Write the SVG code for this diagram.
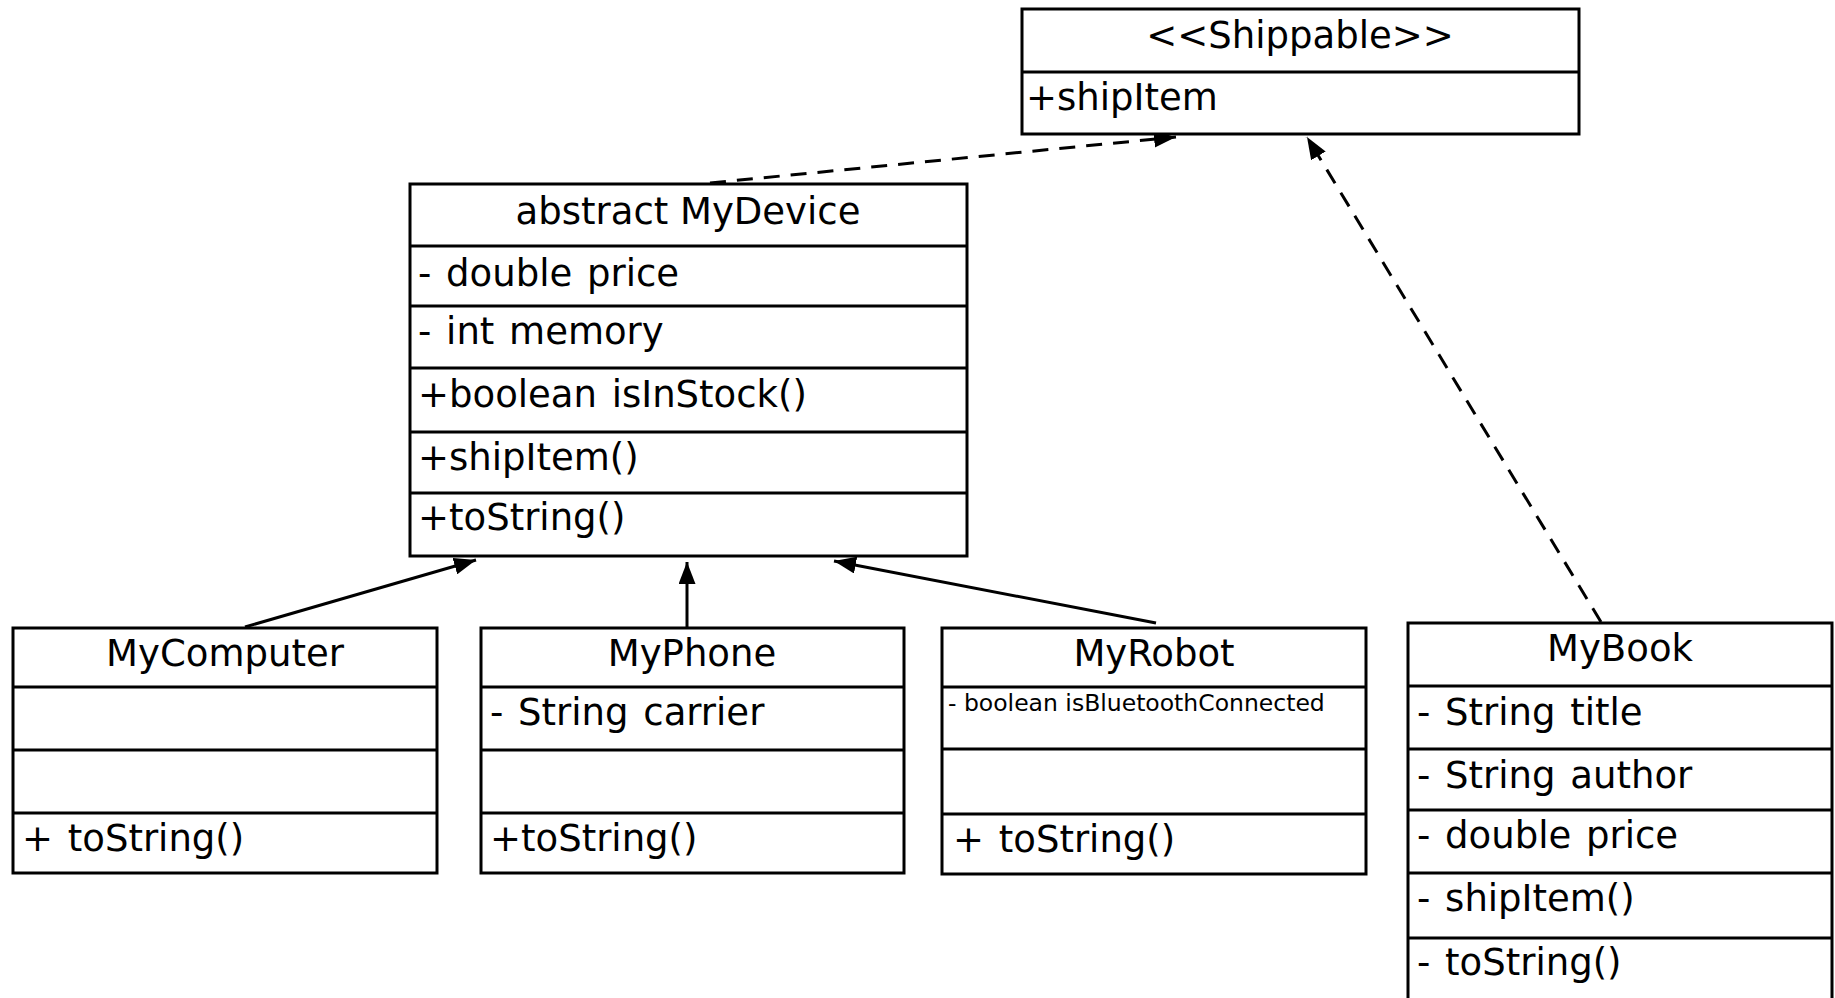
<svg xmlns="http://www.w3.org/2000/svg" width="1835" height="998" viewBox="0 0 1835 998">
<style>
.box{fill:#fff;stroke:#000;stroke-width:3}
.div{stroke:#000;stroke-width:3}
.t{font-family:"DejaVu Sans",Verdana,sans-serif;font-size:37px;fill:#000}
.c{text-anchor:middle}
.w{word-spacing:3px}
.s{font-size:23.5px}
.edge{fill:none;stroke:#000;stroke-width:3}
.dash{stroke-dasharray:16 11}
</style>
<defs>
<marker id="arr" viewBox="0 0 22 17" refX="22" refY="8.5" markerWidth="22" markerHeight="17" orient="auto" markerUnits="userSpaceOnUse">
<path d="M0,0 L22,8.5 L0,17 Z" fill="#000"/>
</marker>
</defs>
<rect width="1835" height="998" fill="#fff"/>

<g id="connectors">
<line class="edge dash" x1="710" y1="183" x2="1176" y2="137" marker-end="url(#arr)"/>
<line class="edge dash" x1="1601" y1="622" x2="1307" y2="137" marker-end="url(#arr)"/>
<line class="edge" x1="245" y1="627" x2="476" y2="560" marker-end="url(#arr)"/>
<line class="edge" x1="687" y1="627" x2="687" y2="562" marker-end="url(#arr)"/>
<line class="edge" x1="1156" y1="623" x2="834" y2="561" marker-end="url(#arr)"/>
</g>

<g id="shippable">
<rect class="box" x="1022" y="9" width="557" height="125"/>
<line class="div" x1="1022" y1="72" x2="1579" y2="72"/>
<text class="t c" x="1300" y="48">&lt;&lt;Shippable&gt;&gt;</text>
<text class="t" x="1026" y="110">+shipItem</text>
</g>

<g id="mydevice">
<rect class="box" x="410" y="184" width="557" height="372"/>
<line class="div" x1="410" y1="246" x2="967" y2="246"/>
<line class="div" x1="410" y1="306" x2="967" y2="306"/>
<line class="div" x1="410" y1="368" x2="967" y2="368"/>
<line class="div" x1="410" y1="432" x2="967" y2="432"/>
<line class="div" x1="410" y1="493" x2="967" y2="493"/>
<text class="t c" x="688" y="224">abstract MyDevice</text>
<text class="t w" x="418" y="286">- double price</text>
<text class="t w" x="418" y="344">- int memory</text>
<text class="t w" x="418" y="407">+boolean isInStock()</text>
<text class="t" x="418" y="470">+shipItem()</text>
<text class="t" x="418" y="530">+toString()</text>
</g>

<g id="mycomputer">
<rect class="box" x="13" y="628" width="424" height="245"/>
<line class="div" x1="13" y1="687" x2="437" y2="687"/>
<line class="div" x1="13" y1="750" x2="437" y2="750"/>
<line class="div" x1="13" y1="813" x2="437" y2="813"/>
<text class="t c" x="225" y="666">MyComputer</text>
<text class="t w" x="22" y="851">+ toString()</text>
</g>

<g id="myphone">
<rect class="box" x="481" y="628" width="423" height="245"/>
<line class="div" x1="481" y1="687" x2="904" y2="687"/>
<line class="div" x1="481" y1="750" x2="904" y2="750"/>
<line class="div" x1="481" y1="813" x2="904" y2="813"/>
<text class="t c" x="692" y="666">MyPhone</text>
<text class="t w" x="490" y="725">- String carrier</text>
<text class="t" x="490" y="851">+toString()</text>
</g>

<g id="myrobot">
<rect class="box" x="942" y="628" width="424" height="246"/>
<line class="div" x1="942" y1="687" x2="1366" y2="687"/>
<line class="div" x1="942" y1="749" x2="1366" y2="749"/>
<line class="div" x1="942" y1="814" x2="1366" y2="814"/>
<text class="t c" x="1154" y="666">MyRobot</text>
<text class="t s" x="948" y="711">- boolean isBluetoothConnected</text>
<text class="t w" x="953" y="852">+ toString()</text>
</g>

<g id="mybook">
<rect class="box" x="1408" y="623" width="424" height="390"/>
<line class="div" x1="1408" y1="686" x2="1832" y2="686"/>
<line class="div" x1="1408" y1="749" x2="1832" y2="749"/>
<line class="div" x1="1408" y1="810" x2="1832" y2="810"/>
<line class="div" x1="1408" y1="873" x2="1832" y2="873"/>
<line class="div" x1="1408" y1="938" x2="1832" y2="938"/>
<text class="t c" x="1620" y="661">MyBook</text>
<text class="t w" x="1417" y="725">- String title</text>
<text class="t w" x="1417" y="788">- String author</text>
<text class="t w" x="1417" y="848">- double price</text>
<text class="t w" x="1417" y="911">- shipItem()</text>
<text class="t w" x="1417" y="975">- toString()</text>
</g>
</svg>
